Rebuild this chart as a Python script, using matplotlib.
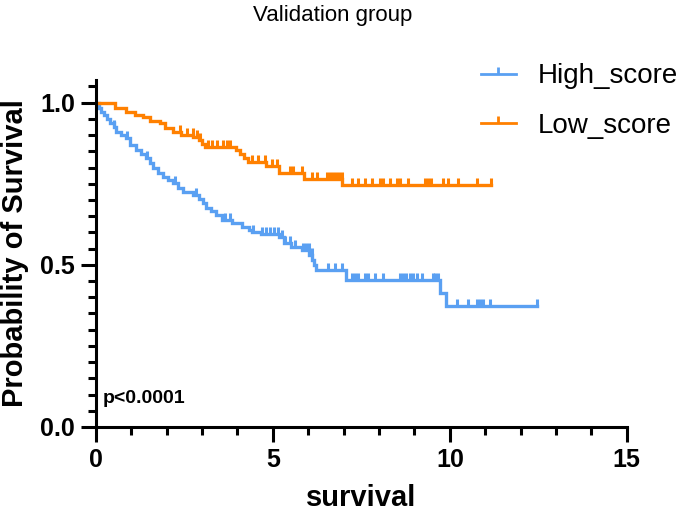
import numpy as np
import matplotlib
matplotlib.use("Agg")
from matplotlib import pyplot as plt
from matplotlib.ticker import MultipleLocator, FormatStrFormatter

plt.rcParams['font.family'] = ['Liberation Sans', 'DejaVu Sans']

# step curves: time where the level starts, survival level
high_t = [0, 0.08, 0.15, 0.22, 0.30, 0.40, 0.50, 0.58, 0.72, 0.86,
          0.97, 1.14, 1.28, 1.42, 1.53, 1.62, 1.76, 1.90, 2.04, 2.18,
          2.32, 2.47, 2.75, 2.92, 3.03, 3.12, 3.26, 3.40, 3.57, 3.85,
          4.13, 4.33, 4.42, 4.67, 5.18, 5.32, 5.52, 5.83, 6.03, 6.11,
          6.17, 6.22, 7.07, 9.72, 9.89]
high_s = [1.0, 0.985, 0.972, 0.963, 0.951, 0.938, 0.926, 0.910, 0.901, 0.892,
          0.870, 0.855, 0.843, 0.830, 0.815, 0.799, 0.784, 0.772, 0.762, 0.753,
          0.738, 0.725, 0.716, 0.704, 0.691, 0.676, 0.667, 0.654, 0.639, 0.630,
          0.617, 0.608, 0.602, 0.596, 0.586, 0.568, 0.556, 0.546, 0.531, 0.515,
          0.500, 0.485, 0.454, 0.414, 0.373]
high_cens = [0.51, 0.88, 1.44, 2.23, 2.82, 3.64, 3.79, 4.44, 4.69, 4.80,
             4.92, 5.03, 5.14, 5.25, 5.34, 5.48, 5.62, 5.85, 5.93, 6.02,
             6.10, 6.55, 6.75, 6.95, 7.23, 7.32, 7.40, 7.60, 7.68, 7.88,
             8.11, 8.59, 8.67, 8.76, 8.87, 8.95, 9.07, 9.21, 9.52, 9.58,
             9.66, 10.20, 10.51, 10.76, 10.85, 10.93, 11.13, 12.46]

low_t = [0, 0.55, 0.86, 1.11, 1.34, 1.53, 1.82, 1.96, 2.18, 2.41,
         2.75, 2.92, 3.00, 3.09, 3.96, 4.08, 4.19, 4.30, 4.81, 5.18,
         5.88, 6.96]
low_s = [1.0, 0.985, 0.972, 0.963, 0.957, 0.944, 0.938, 0.923, 0.910, 0.901,
         0.895, 0.886, 0.873, 0.864, 0.855, 0.843, 0.830, 0.818, 0.805, 0.782,
         0.765, 0.747]
low_cens = [2.37, 2.57, 2.74, 2.85, 2.94, 3.16, 3.28, 3.42, 3.59, 3.70,
            3.79, 4.41, 4.58, 4.77, 4.97, 5.11, 5.48, 5.56, 5.82, 6.10,
            6.24, 6.53, 6.61, 6.69, 6.78, 6.86, 6.95, 7.23, 7.40, 7.60,
            7.80, 8.02, 8.11, 8.31, 8.50, 8.59, 8.81, 9.29, 9.38, 9.46,
            9.80, 9.94, 10.23, 10.76, 11.16]

blue = '#5AA0F2'
orange = '#FF8000'
tick_up = [(0, 0), (0, 1)]


def km(ax, t, s, cens, color, label):
    t = np.array(t)
    s = np.array(s)
    end = max(cens)
    tt = np.append(t, end)
    ss = np.append(s, s[-1])
    ax.step(tt, ss, where='post', color=color, lw=2.4, solid_joinstyle='miter')
    # level of the curve at each censor time
    idx = np.searchsorted(t, cens, side='right') - 1
    ax.plot(cens, s[idx], ls='none', marker=tick_up, ms=10, mew=2.2,
            mec=color, mfc='none', color=color)
    # legend handle
    ax.plot([], [], color=color, lw=2, marker=tick_up, ms=10, mew=2,
            mec=color, mfc='none', label=label)


fig = plt.figure(figsize=(6.85, 5.16), dpi=100)
ax = fig.add_axes([0.140, 0.1725, 0.775, 0.6725])

km(ax, high_t, high_s, high_cens, blue, 'High_score')
km(ax, low_t, low_s, low_cens, orange, 'Low_score')

ax.set_xlim(0, 15)
ax.set_ylim(0, 1.07)
ax.xaxis.set_major_locator(MultipleLocator(5))
ax.xaxis.set_minor_locator(MultipleLocator(1))
ax.yaxis.set_major_locator(MultipleLocator(0.5))
ax.yaxis.set_minor_locator(MultipleLocator(0.05))
ax.yaxis.set_major_formatter(FormatStrFormatter('%.1f'))

for sp in ['top', 'right']:
    ax.spines[sp].set_visible(False)
for sp in ['left', 'bottom']:
    ax.spines[sp].set_linewidth(2.2)
ax.tick_params(which='major', length=11, width=2.2, labelsize=18, pad=4)
ax.tick_params(which='minor', length=6, width=2.2)
for lab in ax.get_xticklabels() + ax.get_yticklabels():
    lab.set_fontweight('bold')

ax.set_xlabel('survival', fontsize=21, fontweight='bold', labelpad=9)
ax.set_ylabel('Probability of Survival', fontsize=21, fontweight='bold', labelpad=8)

ax.text(0.2, 0.075, 'p<0.0001', fontsize=14, fontweight='bold')

fig.text(0.486, 0.97, 'Validation group', fontsize=16, ha='center', va='center')

ax.legend(loc='upper left', bbox_to_anchor=(0.686, 0.899), bbox_transform=fig.transFigure,
          frameon=False, fontsize=20, handlelength=1.25, handletextpad=0.8,
          labelspacing=0.85, numpoints=1, borderaxespad=0)

fig.savefig('out.png', dpi=100)
